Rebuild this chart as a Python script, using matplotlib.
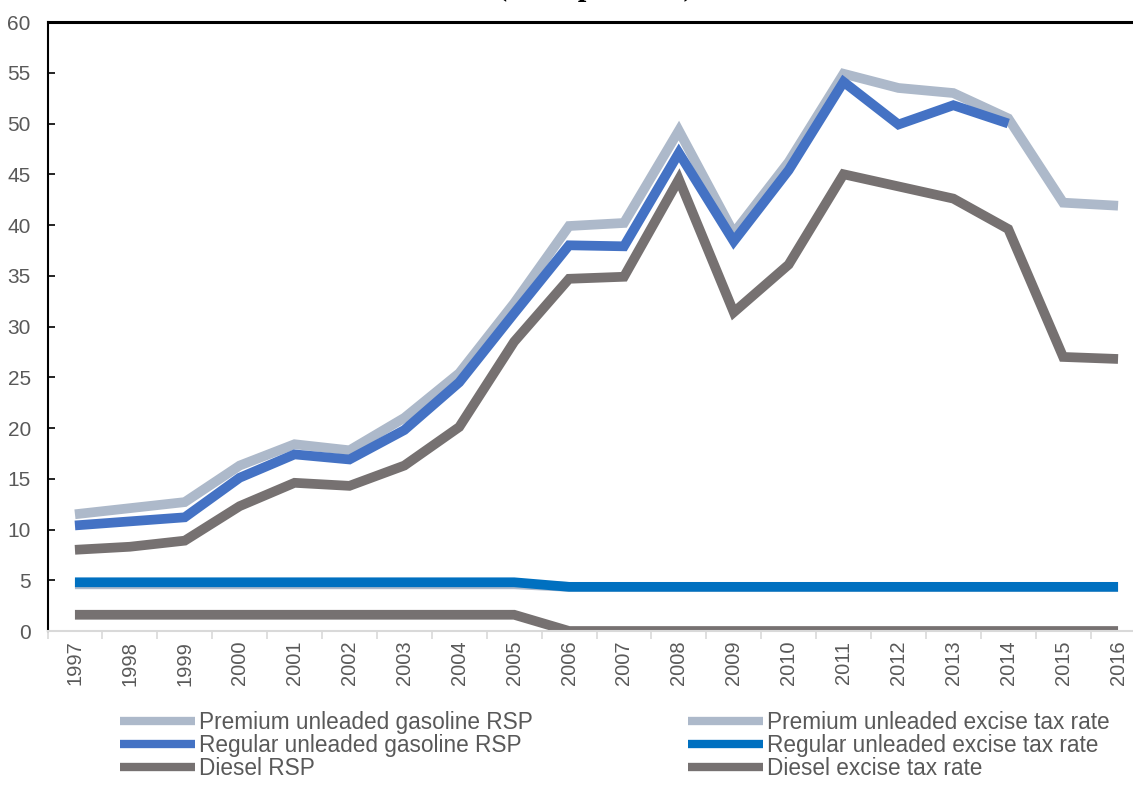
import numpy as np
import matplotlib
matplotlib.use("Agg")
import matplotlib.pyplot as plt
from matplotlib.ticker import FixedLocator, NullFormatter

plt.rcParams['font.family'] = ['Liberation Sans', 'DejaVu Sans']

years = [str(y) for y in range(1997, 2017)]

premium_rsp = [11.5, 12.1, 12.7, 16.3, 18.4, 17.8, 21.0, 25.4, 32.3, 39.9,
               40.2, 49.3, 39.2, 46.2, 54.9, 53.5, 53.0, 50.5, 42.2, 41.9]
regular_rsp = [10.4, 10.8, 11.2, 15.1, 17.4, 16.9, 19.8, 24.5, 31.3, 38.0,
               37.9, 47.1, 38.4, 45.4, 54.1, 49.9, 51.8, 50.0, np.nan, np.nan]
diesel_rsp = [8.0, 8.3, 8.9, 12.3, 14.6, 14.3, 16.3, 20.1, 28.5, 34.7,
              34.9, 44.5, 31.4, 36.1, 45.0, 43.8, 42.6, 39.6, 27.0, 26.8]
premium_tax = [4.6] * 9 + [4.35] * 11
regular_tax = [4.8] * 9 + [4.35] * 11
diesel_tax = [1.6] * 9 + [0.0] * 11

series = [
    ("Premium unleaded gasoline RSP", premium_rsp, "#ADB9CA"),
    ("Premium unleaded excise tax rate", premium_tax, "#ADB9CA"),
    ("Regular unleaded gasoline RSP", regular_rsp, "#4472C4"),
    ("Regular unleaded excise tax rate", regular_tax, "#0070C0"),
    ("Diesel RSP", diesel_rsp, "#767171"),
    ("Diesel excise tax rate", diesel_tax, "#767171"),
]

W, H = 1133, 805
fig = plt.figure(figsize=(W / 100, H / 100), dpi=100)
# the source image is a crop: the plot runs past the right edge
ax = fig.add_axes([47.5 / W, (H - 631) / H, 1098 / W, 609 / H])

x = np.arange(len(years))
lines = {}
for name, vals, col in series:
    ln, = ax.plot(x, vals, color=col, lw=7, solid_capstyle='butt',
                  solid_joinstyle='miter', label=name)
    lines[name] = ln

ax.set_xlim(-0.5, len(years) - 0.5)
ax.set_ylim(0, 60)
ax.set_yticks(range(0, 61, 5))
ax.set_xticks(x)
ax.set_xticklabels(years, rotation=90)
ax.xaxis.set_minor_locator(FixedLocator(np.arange(-0.5, len(years), 1)))
ax.xaxis.set_minor_formatter(NullFormatter())
ax.tick_params(axis='x', which='major', length=0, pad=7,
               labelsize=14.5, labelcolor='#595959')
ax.tick_params(axis='x', which='minor', length=6, width=1.2,
               color='#D9D9D9', direction='out')
ax.tick_params(axis='y', length=5, width=1.2, direction='in', color='black',
               labelsize=15, labelcolor='#595959', pad=12)

for s in ['top', 'left']:
    ax.spines[s].set_color('black')
ax.spines['top'].set_linewidth(2.2)
ax.spines['left'].set_linewidth(1.5)
ax.spines['bottom'].set_color('#D9D9D9')
ax.spines['bottom'].set_linewidth(1.5)
ax.spines['right'].set_visible(False)

# title is mostly cut off at the top of the source image
fig.text(595 / W, 1 + 5 / H, "(Baht per liter)", ha='center', va='baseline',
         fontsize=22, fontweight='bold', family='Liberation Serif')

leg_kw = dict(loc='upper left', frameon=False, fontsize=16.3, handlelength=3.3,
              handletextpad=0.2, labelspacing=0.0, borderpad=0,
              borderaxespad=0, labelcolor='#595959')
left_names = [series[0][0], series[2][0], series[4][0]]
right_names = [series[1][0], series[3][0], series[5][0]]
leg1 = fig.legend([lines[n] for n in left_names], left_names,
                  bbox_to_anchor=(120 / W, 1 - 711 / H), **leg_kw)
leg2 = fig.legend([lines[n] for n in right_names], right_names,
                  bbox_to_anchor=(688 / W, 1 - 711 / H), **leg_kw)
for lg in (leg1, leg2):
    for h in lg.legend_handles:
        h.set_linewidth(6)

fig.savefig("out.png", dpi=100)
